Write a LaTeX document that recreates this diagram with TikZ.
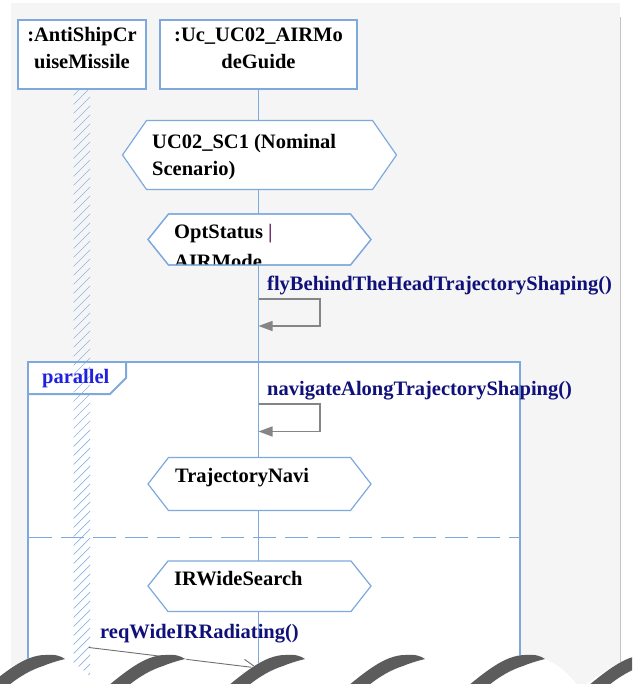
\documentclass[tikz,border=0pt]{standalone}
\usepackage{fontspec}
\setmainfont{Liberation Serif}
\usetikzlibrary{arrows.meta}

\definecolor{pagegray}{HTML}{F5F5F5}
\definecolor{umlblue}{HTML}{7EA9DD}
\definecolor{hatchblue}{HTML}{8CB4E6}
\definecolor{msgnavy}{HTML}{10107A}
\definecolor{fragblue}{HTML}{2020E0}
\definecolor{loopgray}{HTML}{858585}
\definecolor{callgray}{HTML}{707070}
\definecolor{tornshade}{HTML}{5C5C5C}
\definecolor{edgegray}{HTML}{C4C4C4}
\definecolor{barpurple}{HTML}{6B2D6B}

\begin{document}
\begin{tikzpicture}[x=1pt,y=-1pt,
  font=\fontsize{20.5}{27}\selectfont\bfseries,
  lifebox/.style={draw=umlblue, line width=1.3pt, fill=white, inner sep=0pt},
  lbl/.style={inner sep=0pt, text=black},
  msglbl/.style={inner sep=0pt, text=msgnavy},
  lifeline/.style={draw=umlblue, line width=1pt},
  hatchline/.style={draw=hatchblue, line width=0.7pt},
  hexstyle/.style={draw=umlblue, line width=1.2pt, fill=white},
  framestyle/.style={draw=umlblue, line width=2pt},
  selfcall/.style={draw=loopgray, line width=1.4pt, -{Triangle[length=14pt,width=10pt]}},
  callline/.style={draw=callgray, line width=0.9pt, -{Straight Barb[length=13pt,width=14pt]}}
]
\useasboundingbox (0,0) rectangle (632,684);
\clip (0,0) rectangle (632,684);

% sheet and background
\fill[white] (0,0) rectangle (632,684);
\fill[pagegray] (11,3) rectangle (620,700);
\draw[edgegray, line width=1pt] (620,17) -- (620,700);

% interior of the parallel fragment
\fill[white] (28,362) rectangle (520,700);

% lifeline heads
\node[lifebox, minimum width=128pt, minimum height=69pt] (missile) at (82,54.5) {};
\node[lbl, anchor=base] (missileA) at (82,41.5) {:AntiShipCr};
\node[lbl, anchor=base] (missileB) at (82,68.5) {uiseMissile};

\node[lifebox, minimum width=197pt, minimum height=69pt] (guide) at (258.5,54.5) {};
\node[lbl, anchor=base] (guideA) at (258.5,41.5) {:Uc\_UC02\_AIRMo};
\node[lbl, anchor=base] (guideB) at (258.5,68.5) {deGuide};

% lifelines
\coordinate (guideEnd) at (258.5,700);
\draw[lifeline] (guide.south) -- (guideEnd);

\begin{scope}
  \clip (73.5,89.5) rectangle (90,700);
  \foreach \y in {88,97,...,700}
    \draw[hatchline] (72,\y+9) -- (92,\y-11);
\end{scope}

% state invariants / scenario references
\path[hexstyle] (122.5,155) -- (146.5,120.5) -- (372.5,120.5) -- (396.5,155)
  -- (372.5,189.5) -- (146.5,189.5) -- cycle;
\node[lbl, anchor=base west] (scA) at (152,148.5) {UC02\_SC1 (Nominal};
\node[lbl, anchor=base west] (scB) at (152,175.5) {Scenario)};

\path[hexstyle] (148,239.5) -- (168.5,214) -- (350.5,214) -- (371,239.5)
  -- (350.5,265) -- (168.5,265) -- cycle;
\begin{scope}
  \clip (148,239.5) -- (168.5,214) -- (350.5,214) -- (371,239.5)
    -- (350.5,264) -- (168.5,264) -- cycle;
  \node[lbl, anchor=base west] (optA) at (174,238.5) {OptStatus {\color{barpurple}|}};
  \node[lbl, anchor=base west] (optB) at (174,269) {AIRMode};
\end{scope}
\draw[umlblue, line width=1.2pt] (148,239.5) -- (168.5,214) -- (350.5,214) -- (371,239.5)
  -- (350.5,265) -- (168.5,265) -- cycle;

\path[hexstyle] (148,484) -- (168.5,457.5) -- (350.5,457.5) -- (371,484)
  -- (350.5,510.5) -- (168.5,510.5) -- cycle;
\node[lbl, anchor=base west] (navi) at (175,482.5) {TrajectoryNavi};

\path[hexstyle] (148,586) -- (168,561) -- (351,561) -- (371,586)
  -- (351,611.5) -- (168,611.5) -- cycle;
\node[lbl, anchor=base west] (irws) at (174,585) {IRWideSearch};

% parallel combined fragment
\draw[framestyle] (28,700) -- (28,362) -- (520,362) -- (520,700);
\draw[framestyle] (28,394) -- (110,394) -- (126,378) -- (126,362);
\node[inner sep=0pt, text=fragblue, anchor=base west] (parTag) at (42,383.5) {parallel};
\draw[umlblue, line width=1.8pt, dash pattern=on 23pt off 9pt] (29,537.5) -- (520,537.5);

% self calls on the guide lifeline
\node[msglbl, anchor=base west] (flyLbl) at (267,290) {flyBehindTheHeadTrajectoryShaping()};
\coordinate (flyOut) at (258.5,299);
\coordinate (flyIn) at (258.5,326);
\draw[selfcall] (flyOut) -- (320,299) -- (320,326) -- (flyIn);

\node[msglbl, anchor=base west] (navLbl) at (267,395) {navigateAlongTrajectoryShaping()};
\coordinate (navOut) at (258.5,404);
\coordinate (navIn) at (258.5,431.5);
\draw[selfcall] (navOut) -- (320,404) -- (320,431.5) -- (navIn);

% call from the missile to the guide
\node[msglbl, anchor=base west] (reqLbl) at (100,638.5) {reqWideIRRadiating()};
\coordinate (reqFrom) at (89,647.5);
\coordinate (reqTo) at (257.5,668);
\draw[callline] (reqFrom) -- (reqTo);

% torn lower edge of the sheet
\fill[white] (-75,655)
  \foreach \c in {-75,45,165,285,405,525,645} {
    .. controls (\c+10,654) and (\c+16,656) .. (\c+20,659)
    .. controls (\c+35,665) and (\c+45,676) .. (\c+55,688)
    .. controls (\c+80,672) and (\c+100,655) .. (\c+120,655)
  } -- (765,720) -- (-75,720) -- cycle;
\foreach \c in {45,165,285,405,525,645} {
  \fill[tornshade] (\c-62,690) .. controls (\c-40,672) and (\c-20,655) .. (\c,655)
    .. controls (\c+10,654) and (\c+16,656) .. (\c+20,659)
    .. controls (\c+12,661) and (\c+5,663) .. (\c-2,666)
    .. controls (\c-18,671) and (\c-34,682) .. (\c-46,694)
    -- cycle;
}
\end{tikzpicture}
\end{document}
